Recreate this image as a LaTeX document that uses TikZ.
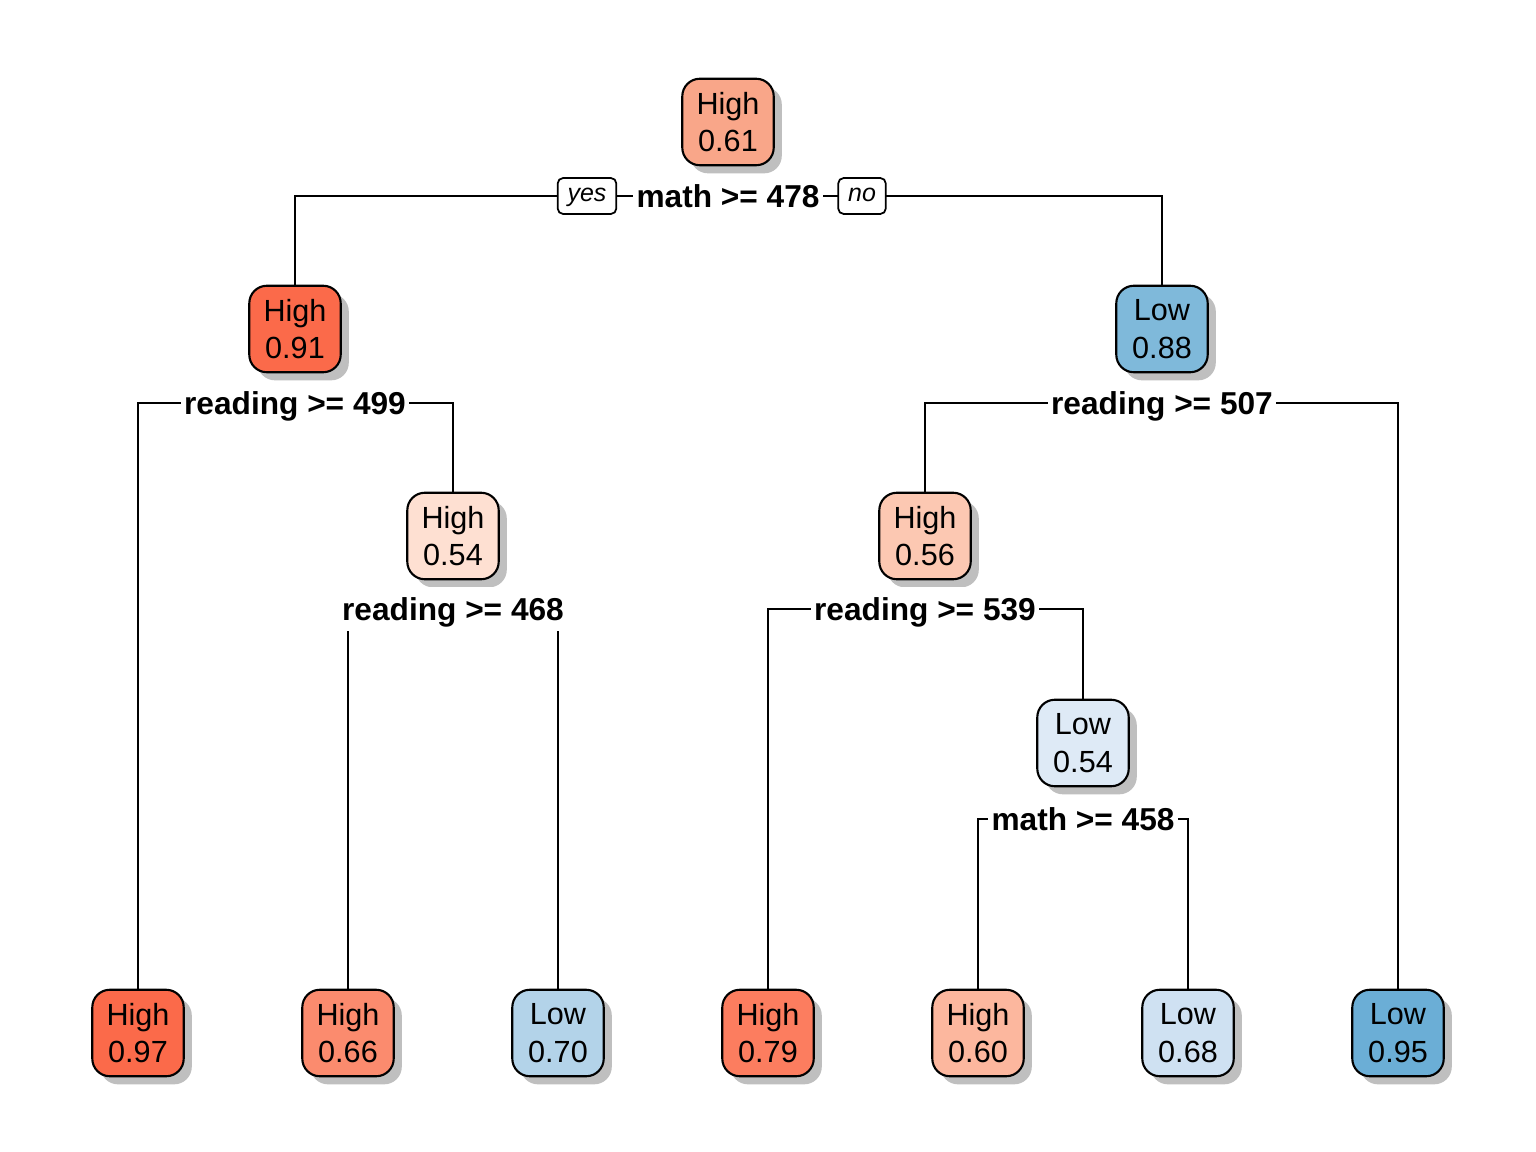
\documentclass[tikz,border=0pt]{standalone}
\usepackage{fontspec}
\setmainfont{Liberation Sans}
\usetikzlibrary{shadows,backgrounds}

\definecolor{hi97}{HTML}{FB6A4A}
\definecolor{hi91}{HTML}{FB6A4A}
\definecolor{hi79}{HTML}{FC7D5F}
\definecolor{hi66}{HTML}{FB8B6E}
\definecolor{hi61}{HTML}{F9A689}
\definecolor{hi60}{HTML}{FCB79E}
\definecolor{hi56}{HTML}{FCC8B2}
\definecolor{hi54}{HTML}{FEE0D2}
\definecolor{lo54}{HTML}{DEEAF6}
\definecolor{lo68}{HTML}{CFE1F2}
\definecolor{lo70}{HTML}{B3D3E9}
\definecolor{lo88}{HTML}{7FB9DA}
\definecolor{lo95}{HTML}{6BAED6}

\begin{document}
\begin{tikzpicture}[x=0.01cm, y=-0.01cm, every node/.style={font=\fontsize{8.7}{10.7}\selectfont},
		tnode/.style={draw, line width=0.6pt, rounded corners=5pt, align=center, inner sep=1pt,
			minimum width=26pt, minimum height=24.6pt,
			drop shadow={shadow xshift=2.3pt, shadow yshift=-2.3pt, fill=black!25, opacity=1}},
		split/.style={fill=white, font=\fontsize{9}{10.4}\selectfont\bfseries,
			text height=8.3pt, text depth=1.9pt, inner xsep=1pt, inner ysep=1.2pt},
		yesno/.style={draw, fill=white, line width=0.5pt, rounded corners=1.5pt,
			font=\fontsize{7.1}{8}\selectfont\itshape, inner xsep=2.8pt, inner ysep=1.5pt,
			minimum height=10.2pt, text height=5pt, text depth=1.6pt},
		branch/.style={line width=0.6pt}]
			\useasboundingbox (0,0) rectangle (1536,1152);

			% Tree nodes
			\node[tnode, fill=hi61] (n1) at (728,122) {High\\0.61};
			\node[tnode, fill=hi91] (n2) at (295,329) {High\\0.91};
			\node[tnode, fill=lo88] (n3) at (1162,329) {Low\\0.88};
			\node[tnode, fill=hi54] (n5) at (453,536) {High\\0.54};
			\node[tnode, fill=hi56] (n6) at (925,536) {High\\0.56};
			\node[tnode, fill=lo54] (n13) at (1083,743) {Low\\0.54};

			% Leaves
			\node[tnode, fill=hi97] (n4) at (138,1033) {High\\0.97};
			\node[tnode, fill=hi66] (n10) at (348,1033) {High\\0.66};
			\node[tnode, fill=lo70] (n11) at (558,1033) {Low\\0.70};
			\node[tnode, fill=hi79] (n12) at (768,1033) {High\\0.79};
			\node[tnode, fill=hi60] (n26) at (978,1033) {High\\0.60};
			\node[tnode, fill=lo68] (n27) at (1188,1033) {Low\\0.68};
			\node[tnode, fill=lo95] (n7) at (1398,1033) {Low\\0.95};

			% Split labels
			\node[split] (s1) at (728,196) {math >= 478};
			\node[split] (s2) at (295,403) {reading >= 499};
			\node[split] (s3) at (1162,403) {reading >= 507};
			\node[split] (s5) at (453,609) {reading >= 468};
			\node[split] (s6) at (925,609) {reading >= 539};
			\node[split] (s13) at (1083,819) {math >= 458};

			% yes / no
			\node[yesno] (yes) at (587,196) {yes};
			\node[yesno] (no) at (862,196) {no};

			% Branches
			\begin{scope}[on background layer]
				\draw[branch] (n2.north) |- (s1.center) -| (n3.north);
				\draw[branch] (n4.north) |- (s2.center) -| (n5.north);
				\draw[branch] (n6.north) |- (s3.center) -| (n7.north);
				\draw[branch] (n10.north) |- (s5.center) -| (n11.north);
				\draw[branch] (n12.north) |- (s6.center) -| (n13.north);
				\draw[branch] (n26.north) |- (s13.center) -| (n27.north);
			\end{scope}
		\end{tikzpicture}
\end{document}
